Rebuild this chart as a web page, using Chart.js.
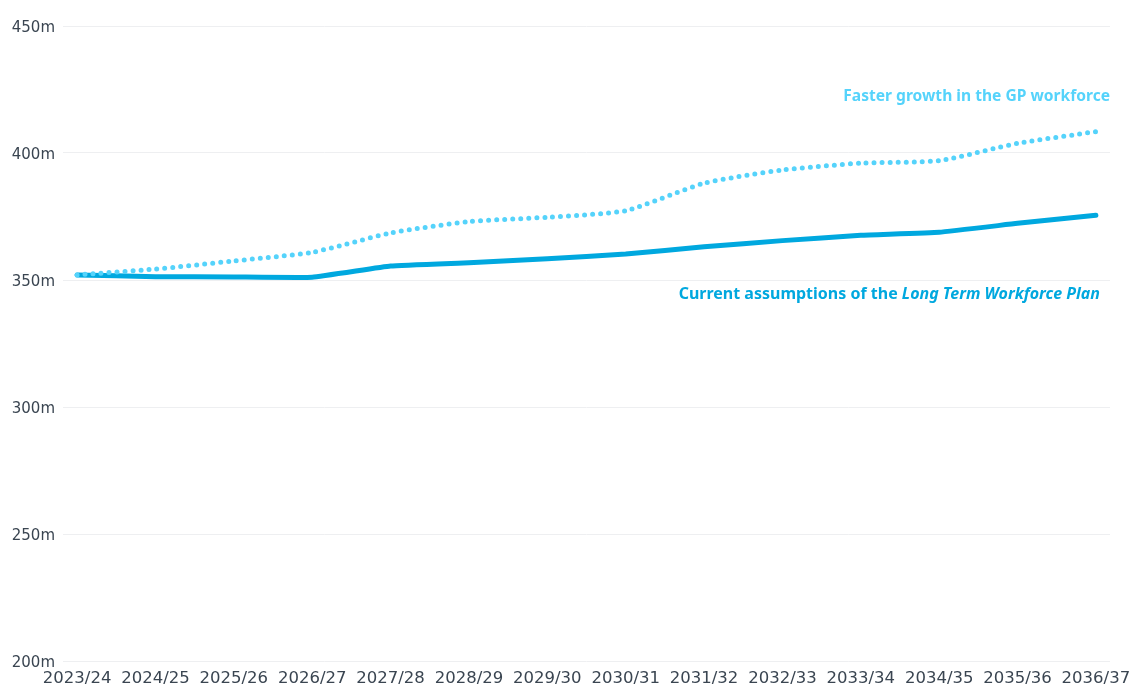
<!DOCTYPE html>
<html>
<head>
<meta charset="utf-8">
<script src="https://cdn.jsdelivr.net/npm/chart.js@4/dist/chart.umd.min.js"></script>
<style>
  html, body { margin: 0; padding: 0; background: #fff; }
  #wrap { width: 1132px; height: 686px; }
</style>
</head>
<body>
<div id="wrap"><canvas id="appointments-chart"></canvas></div>
<script>
// Financial years on the x axis
const years = ['2023/24', '2024/25', '2025/26', '2026/27', '2027/28', '2028/29', '2029/30',
  '2030/31', '2031/32', '2032/33', '2033/34', '2034/35', '2035/36', '2036/37'];

// Projected appointments (millions)
const currentPlan = [352.0, 351.3, 351.2, 351.1, 355.5, 356.8, 358.4,
  360.2, 363.1, 365.5, 367.6, 368.8, 372.3, 375.5];
const fasterGrowth = [352.0, 354.3, 357.5, 360.9, 368.5, 373.0, 374.7,
  377.3, 388.1, 393.3, 396.0, 397.0, 403.8, 408.4];

const yTicks = [200, 250, 300, 350, 400, 450];

const colors = {
  current: '#00a8df',
  faster: '#55d3fb',
  text: '#3a4551',
  grid: '#eeeff1'
};

const AXIS_FONT = '"DejaVu Sans", "Noto Sans", sans-serif';
const LABEL_FONT = '"Noto Sans", "Open Sans", sans-serif';

// Inline labels next to the two lines
const lineLabels = {
  id: 'lineLabels',
  afterDatasetsDraw(chart) {
    const ctx = chart.ctx;
    ctx.save();
    ctx.textBaseline = 'middle';
    ctx.textAlign = 'right';

    ctx.font = 'bold 15.6px ' + LABEL_FONT;
    ctx.fillStyle = colors.faster;
    ctx.fillText('Faster growth in the GP workforce', 1110, 97);

    const italic = 'Long Term Workforce Plan';
    const plain = 'Current assumptions of the ';
    ctx.fillStyle = colors.current;
    ctx.font = 'italic bold 16px ' + LABEL_FONT;
    const w = ctx.measureText(italic).width;
    ctx.fillText(italic, 1100, 294);
    ctx.font = 'bold 16px ' + LABEL_FONT;
    ctx.fillText(plain, 1100 - w, 294);
    ctx.restore();
  }
};

new Chart(document.getElementById('appointments-chart'), {
  type: 'line',
  data: {
    datasets: [
      {
        label: 'Faster growth in the GP workforce',
        data: fasterGrowth.map((v, i) => ({ x: i, y: v })),
        borderColor: colors.faster,
        borderWidth: 5,
        borderDash: [0, 8],
        borderCapStyle: 'round',
        pointRadius: 0,
        tension: 0.2,
        fill: false
      },
      {
        label: 'Current assumptions of the Long Term Workforce Plan',
        data: currentPlan.map((v, i) => ({ x: i, y: v })),
        borderColor: colors.current,
        borderWidth: 5,
        borderCapStyle: 'round',
        borderJoinStyle: 'round',
        pointRadius: 0,
        tension: 0.1,
        fill: false
      }
    ]
  },
  options: {
    responsive: true,
    maintainAspectRatio: false,
    animation: false,
    layout: { padding: { top: 26, right: 22, left: 0, bottom: 0 } },
    plugins: {
      legend: { display: false },
      tooltip: { enabled: false }
    },
    scales: {
      x: {
        type: 'linear',
        min: -0.18,
        max: years.length - 1 + 0.18,
        afterBuildTicks(scale) {
          scale.ticks = years.map((_, i) => ({ value: i }));
        },
        afterFit(scale) {
          // keep the end labels from squeezing the plot area
          scale.height = 25;
          scale.paddingLeft = 0;
          scale.paddingRight = 0;
        },
        grid: { display: false, drawTicks: false },
        border: { display: false },
        ticks: {
          autoSkip: false,
          maxRotation: 0,
          padding: 8,
          color: colors.text,
          font: { family: AXIS_FONT, size: 16.5 },
          callback: (v) => years[v]
        }
      },
      y: {
        min: 200,
        max: 450,
        afterBuildTicks(scale) {
          scale.ticks = yTicks.map(v => ({ value: v }));
        },
        afterFit(scale) { scale.width = 63; },
        grid: { color: colors.grid, lineWidth: 1, drawTicks: false },
        border: { display: false },
        ticks: {
          padding: 8,
          labelOffset: 2,
          color: colors.text,
          font: { family: AXIS_FONT, size: 15 },
          callback: (v) => v + 'm'
        }
      }
    }
  },
  plugins: [lineLabels]
});
</script>
</body>
</html>
